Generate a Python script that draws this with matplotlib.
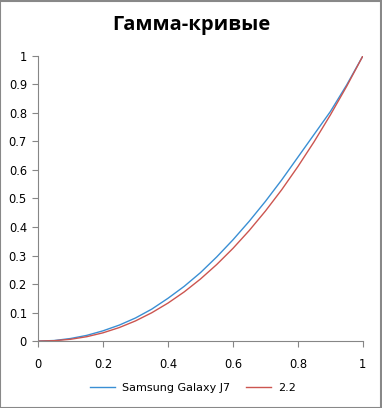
import numpy as np
import matplotlib.pyplot as plt
from matplotlib.patches import Rectangle

# values
x = [0.0, 0.05, 0.1, 0.15, 0.2, 0.25, 0.3, 0.35, 0.4, 0.45, 0.5,
     0.55, 0.6, 0.65, 0.7, 0.75, 0.8, 0.85, 0.9, 0.95, 1.0]
samsung_j7 = [0.0, 0.002, 0.009, 0.020, 0.036, 0.056, 0.081, 0.112, 0.150,
              0.192, 0.240, 0.295, 0.355, 0.420, 0.490, 0.565, 0.645,
              0.725, 0.805, 0.898, 1.0]
gamma_22 = [0.0, 0.0014, 0.0063, 0.0154, 0.0290, 0.0474, 0.0707, 0.0993,
            0.1332, 0.1725, 0.2176, 0.2684, 0.3250, 0.3875, 0.4560, 0.5306,
            0.6121, 0.6994, 0.7932, 0.8933, 1.0]
x_ticks = [0, 0.2, 0.4, 0.6, 0.8, 1]
y_ticks = [0, 0.1, 0.2, 0.3, 0.4, 0.5, 0.6, 0.7, 0.8, 0.9, 1]

plt.rcParams['font.family'] = ['DejaVu Sans']

fig = plt.figure(figsize=(3.82, 4.08), dpi=100)
fig.patches.append(Rectangle((0.001, 0.001), 0.997, 0.997, transform=fig.transFigure,
                             fill=False, edgecolor='#888888', linewidth=1.5))
ax = fig.add_axes([0.0995, 0.164, 0.8505, 0.699])

ax.plot(x, samsung_j7, color='#3a8fd4', linewidth=1.0, label='Samsung Galaxy J7')
ax.plot(x, gamma_22, color='#cc5550', linewidth=1.0, label='2.2')

ax.set_xlim(0, 1)
ax.set_ylim(0, 1)
ax.set_xticks(x_ticks)
ax.set_xticklabels([('%g' % v) for v in x_ticks])
ax.set_yticks(y_ticks)
ax.set_yticklabels([('%g' % v) for v in y_ticks])
ax.tick_params(direction='out', length=4, color='#868686', labelsize=8.3, pad=4)
ax.tick_params(axis='x', pad=8)
for s in ['top', 'right']:
    ax.spines[s].set_visible(False)
for s in ['left', 'bottom']:
    ax.spines[s].set_color('#868686')

fig.text(0.5, 0.938, 'Гамма-кривые', ha='center', va='center',
         fontsize=14.5, fontweight='bold', family='Open Sans')
fig.legend(loc='center', bbox_to_anchor=(0.505, 0.049), ncol=2, frameon=False,
           fontsize=8, handlelength=2.3, columnspacing=1.4, handletextpad=0.6)

plt.savefig('out.png', dpi=100)
